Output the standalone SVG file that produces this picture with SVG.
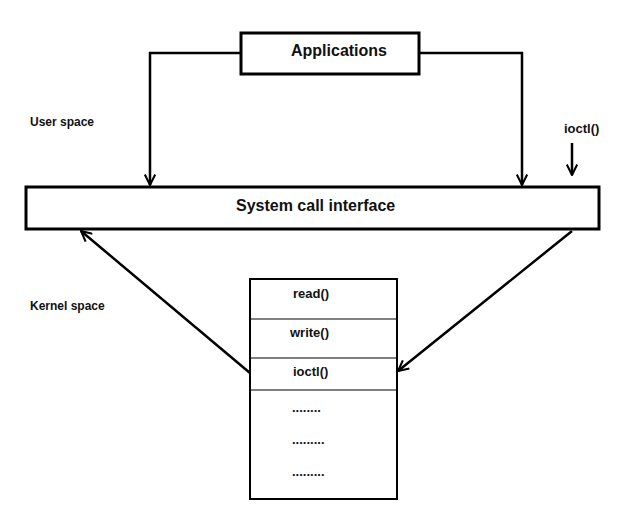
<svg xmlns="http://www.w3.org/2000/svg" width="643" height="505" viewBox="0 0 643 505">
<style>
text{font-family:"Liberation Sans",Arial,sans-serif;font-weight:bold;fill:#111}
.big{font-size:16px}
.sm{font-size:12px}
.md{font-size:13px}
.box{fill:#fff;stroke:#000;stroke-width:3}
.tbl{fill:#fff;stroke:#000;stroke-width:2}
.div{stroke:#000;stroke-width:1.2}
.con{fill:none;stroke:#000;stroke-width:2.5}
</style>
<defs>
<marker id="ah" viewBox="0 0 12 12" refX="11" refY="6" markerWidth="5" markerHeight="5" orient="auto" markerUnits="strokeWidth">
<path d="M1,1 L11,6 L1,11" fill="none" stroke="#000" stroke-width="2"/>
</marker>
</defs>
<rect width="643" height="505" fill="#fff"/>
<g id="connectors">
<polyline class="con" points="241,53 150,53 150,185" marker-end="url(#ah)"/>
<polyline class="con" points="419,53 522,53 522,185" marker-end="url(#ah)"/>
<line class="con" x1="572" y1="143" x2="572" y2="175" marker-end="url(#ah)"/>
<line class="con" x1="250" y1="373" x2="81" y2="231" marker-end="url(#ah)"/>
<line class="con" x1="572" y1="231" x2="398" y2="371" marker-end="url(#ah)"/>
</g>
<g id="applications">
<rect class="box" x="241" y="33" width="178" height="41"/>
<text class="big" x="291" y="56">Applications</text>
</g>
<g id="syscall">
<rect class="box" x="26" y="187" width="573" height="42"/>
<text class="big" x="236" y="211">System call interface</text>
</g>
<g id="labels">
<text class="sm" x="30" y="126">User space</text>
<text class="sm" x="30" y="310">Kernel space</text>
<text class="md" x="564" y="133">ioctl()</text>
</g>
<g id="table">
<rect class="tbl" x="250" y="279" width="147" height="220"/>
<line class="div" x1="250" y1="319" x2="397" y2="319"/>
<line class="div" x1="250" y1="358" x2="397" y2="358"/>
<line class="div" x1="250" y1="390" x2="397" y2="390"/>
<text class="md" x="293" y="298">read()</text>
<text class="md" x="290" y="337">write()</text>
<text class="md" x="293" y="376">ioctl()</text>
<text class="md" x="292" y="412">........</text>
<text class="md" x="292" y="444">.........</text>
<text class="md" x="292" y="476">.........</text>
</g>
</svg>
